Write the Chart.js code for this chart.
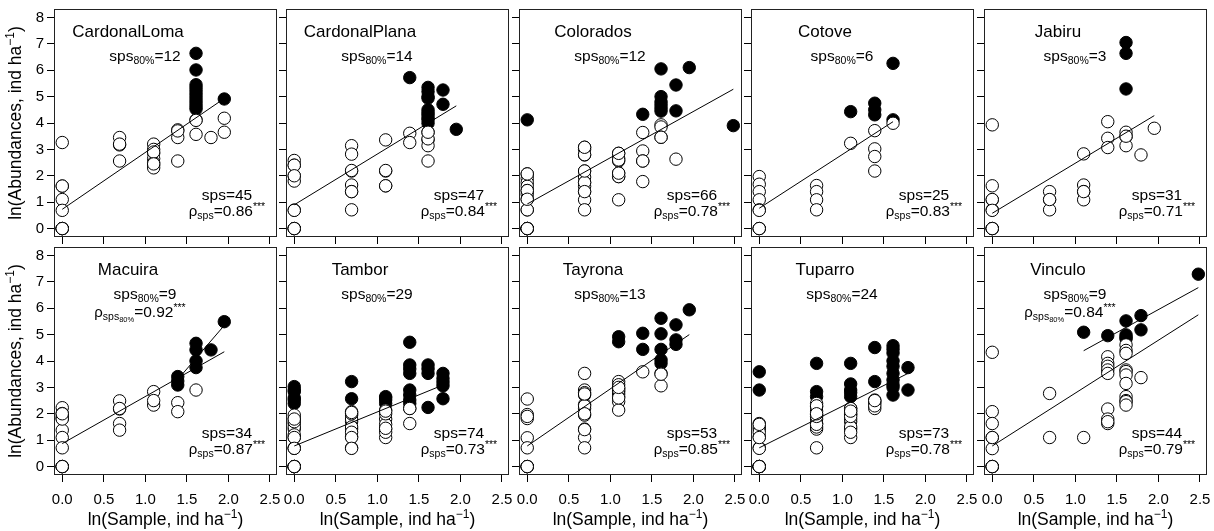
<!DOCTYPE html>
<html>
<head>
<meta charset="utf-8">
<script src="https://cdn.jsdelivr.net/npm/chart.js@4.4.0/dist/chart.umd.min.js"></script>
<style>
  body { margin: 0; background: #fff; }
  #wrap { position: relative; width: 1214px; height: 531px; }
  #wrap canvas { position: absolute; left: 0; top: 0; }
</style>
</head>
<body>
<div id="wrap"></div>
<script>
// Sites and statistics
const sites = ['CardonalLoma', 'CardonalPlana', 'Colorados', 'Cotove', 'Jabiru',
               'Macuira', 'Tambor', 'Tayrona', 'Tuparro', 'Vinculo'];
const sps80 = [12, 14, 12, 6, 3, 9, 29, 13, 24, 9];
const spsAll = [45, 47, 66, 25, 31, 34, 74, 53, 73, 44];
const rhoAll = ['0.86', '0.84', '0.78', '0.83', '0.71', '0.87', '0.73', '0.85', '0.78', '0.79'];
const rho80 = [null, null, null, null, null, '0.92', null, null, null, '0.84'];

const xTicks = [0, 0.5, 1, 1.5, 2, 2.5];
const yTicks = [0, 1, 2, 3, 4, 5, 6, 7, 8];

// [ln(sample), ln(abundance)] -- open = rest of species, filled = 80% species
const lomaOpen = [[0,3.26],[0,1.61],[0,1.1],[0,0.69],[0,0],[0,0],[0,0],[0,0],[0,0],
  [0.69,3.45],[0.69,3.17],[0.69,2.56],
  [1.1,3.2],[1.1,3.0],[1.1,2.85],[1.1,2.65],[1.1,2.5],[1.1,2.4],[1.1,2.3],[1.1,2.9],
  [1.39,3.74],[1.39,3.45],[1.39,2.56],
  [1.61,4.12],[1.61,3.57],[1.61,4.1],
  [1.79,3.45],[1.95,4.18],[1.95,3.65],
  [0,1.61],[0.69,3.2],[1.1,2.45],[1.39,3.7]];
const lomaFilled = [[1.61,6.64],[1.61,6.01],[1.61,5.45],[1.61,5.33],[1.61,5.21],[1.61,5.09],
  [1.61,4.97],[1.61,4.85],[1.61,4.74],[1.61,4.63],[1.61,4.53],[1.95,4.91]];

const planaOpen = [[0,2.58],[0,2.4],[0,2.0],[0,1.8],[0,0.7],[0,0],[0,0],[0,0],[0,0],[0,0.69],[0,2.4],
  [0.69,3.14],[0.69,2.82],[0.69,2.18],[0.69,1.65],[0.69,1.4],[0.69,0.71],[0.69,2.2],
  [1.1,3.36],[1.1,2.18],[1.1,1.62],[1.1,2.2],
  [1.39,3.61],[1.39,3.26],
  [1.61,3.65],[1.61,3.36],[1.61,3.14],[1.61,2.56],[1.61,3.4],[1.61,3.65],
  [0,2.0],[0.69,1.4],[1.1,1.62]];
const planaFilled = [[1.39,5.72],[1.61,5.35],[1.61,5.19],[1.61,5.0],[1.61,4.94],[1.61,4.5],
  [1.61,4.4],[1.61,4.31],[1.61,4.2],[1.61,4.12],[1.61,3.99],[1.79,5.25],[1.79,4.71],[1.95,3.76]];

const coloOpen = [[0,2.07],[0,1.9],[0,1.74],[0,1.6],[0,1.44],[0,1.3],[0,1.11],[0,0.71],[0,0],[0,0],[0,0],[0,0],[0,0],
  [0.69,3.08],[0.69,3.0],[0.69,2.79],[0.69,2.18],[0.69,1.95],[0.69,1.74],[0.69,1.6],[0.69,1.4],
  [0.69,1.09],[0.69,0.71],[0.69,2.8],[0.69,1.75],
  [1.1,2.85],[1.1,2.66],[1.1,2.56],[1.1,2.1],[1.1,1.97],[1.1,1.09],[1.1,2.6],
  [1.39,3.64],[1.39,2.94],[1.39,2.56],[1.39,1.78],
  [1.61,3.93],[1.61,3.85],[1.61,3.46],
  [1.79,2.63],
  [0,2.07],[0,1.44],[0,0.71],[0.69,3.08],[0.69,2.18],[1.1,2.85],[1.1,1.97],[1.39,2.56],
  [1.61,3.46],[0,1.11],[0.69,1.4],[0,0],[0,0],[1.1,2.1]];
const coloFilled = [[0,4.12],[1.39,4.33],[1.61,6.05],[1.61,5.0],[1.61,4.8],[1.61,4.68],[1.61,4.56],
  [1.61,4.45],[1.79,5.44],[1.79,4.46],[1.95,6.1],[2.48,3.9]];

const cotoOpen = [[0,1.97],[0,1.68],[0,1.4],[0,1.09],[0,0.71],[0,0],[0,0],[0,0],[0,0.69],
  [0.69,1.63],[0.69,1.4],[0.69,1.09],[0.69,0.71],
  [1.1,3.23],
  [1.39,3.71],[1.39,3.02],[1.39,2.73],[1.39,2.18],
  [1.61,3.99]];
const cotoFilled = [[1.1,4.43],[1.39,4.75],[1.39,4.5],[1.39,4.31],[1.61,6.26],[1.61,4.12]];

const jabiOpen = [[0,3.93],[0,1.62],[0,1.09],[0,0.71],[0,0],[0,0],[0,0],[0,0],[0,1.1],
  [0.69,1.4],[0.69,1.09],[0.69,0.71],[0.69,1.1],
  [1.1,2.83],[1.1,1.65],[1.1,1.4],[1.1,1.09],[1.1,1.4],
  [1.39,4.05],[1.39,3.42],[1.39,3.07],
  [1.61,3.65],[1.61,3.48],[1.61,3.14],[1.61,3.5],
  [1.79,2.79],[1.95,3.8],[0,0.69]];
const jabiFilled = [[1.61,7.05],[1.61,6.64],[1.61,5.29]];

const macuOpen = [[0,2.23],[0,2.01],[0,1.89],[0,1.82],[0,1.38],[0,1.1],[0,0.71],[0,0],[0,0],[0,0],[0,0],[0,0],[0,1.8],[0,2.0],
  [0.69,2.49],[0.69,2.18],[0.69,1.63],[0.69,1.38],[0.69,2.2],
  [1.1,2.84],[1.1,2.33],[1.1,2.5],
  [1.39,2.42],[1.39,2.08],
  [1.61,2.9]];
const macuFilled = [[1.39,3.41],[1.39,3.24],[1.39,3.09],[1.61,4.67],[1.61,4.42],[1.61,4.0],
  [1.61,3.75],[1.79,4.42],[1.95,5.49]];

const tambOpen = [[0,1.82],[0,1.63],[0,1.42],[0,1.1],[0,0.71],[0,0],[0,0],
  [0.69,2.08],[0.69,1.95],[0.69,1.7],[0.69,1.42],[0.69,1.13],[0.69,0.71],
  [1.1,2.14],[1.1,1.8],[1.1,1.42],[1.1,1.1],
  [1.39,2.2],[1.39,1.63],
  [0,0],[0,0],[0,0],[0,0],[0,1.5],[0,1.2],[0,0.69],[0.69,1.8],[0.69,2.0],[0.69,1.5],[0.69,1.3],
  [1.1,1.6],[1.1,2.0],[1.1,1.3],[1.39,2.2],[0,1.95],[0,1.7],[1.1,2.1],[0.69,1.1],[0,1.1],
  [0,0.69],[0,0],[0.69,2.05],[1.1,1.45],[0,1.8],[0.69,0.69]];
const tambFilled = [[0,3.03],[0,2.84],[0,2.52],[0,2.39],[0.69,3.22],[0.69,2.57],[1.1,2.65],[1.1,2.52],
  [1.1,2.39],[1.39,4.71],[1.39,3.85],[1.39,3.53],[1.39,2.9],[1.39,2.71],[1.39,2.52],[1.39,2.39],
  [1.61,3.85],[1.61,3.53],[1.61,2.24],[1.79,3.53],[1.79,3.34],[1.79,3.06],[1.79,2.57],
  [0,2.9],[0,2.6],[1.39,3.7],[1.61,3.7],[1.79,3.2],[1.1,2.6]];

const tayrOpen = [[0,2.56],[0,1.97],[0,1.82],[0,1.09],[0,0.71],[0,0],[0,0],[0,0],[0,0],[0,0],[0,1.9],
  [0.69,3.53],[0.69,2.9],[0.69,2.8],[0.69,2.71],[0.69,2.35],[0.69,2.2],[0.69,1.95],[0.69,1.42],
  [0.69,1.1],[0.69,0.71],[0.69,2.3],[0.69,2.75],[0.69,1.4],[0.69,2.0],
  [1.1,3.22],[1.1,3.1],[1.1,2.96],[1.1,2.84],[1.1,2.75],[1.1,2.65],[1.1,2.46],[1.1,2.14],
  [1.1,2.9],[1.1,2.6],[1.1,3.0],
  [1.39,3.59],
  [1.61,3.53],[1.61,3.06],[1.61,3.5]];
const tayrFilled = [[1.1,4.92],[1.1,4.73],[1.39,5.05],[1.39,4.44],[1.61,5.62],[1.61,5.03],[1.61,4.44],
  [1.61,4.04],[1.61,3.91],[1.79,5.37],[1.79,4.8],[1.79,4.63],[1.95,5.94]];

const tupaOpen = [[0,1.63],[0,1.42],[0,1.13],[0,0.71],[0,0],[0,0],
  [0.69,2.39],[0.69,2.27],[0.69,1.97],[0.69,1.63],[0.69,1.42],[0.69,0.71],
  [1.1,2.2],[1.1,2.1],[1.1,1.97],[1.1,1.7],[1.1,1.42],[1.1,1.1],
  [1.39,2.52],[1.39,2.39],[1.39,2.2],
  [0,0],[0,0],[0,0],[0,0],[0,0],[0,1.5],[0,1.3],[0,0.69],[0.69,2.1],[0.69,1.8],[0.69,1.5],[0.69,2.3],
  [1.1,1.8],[1.1,1.5],[1.1,2.0],[1.1,2.2],[1.39,2.45],[1.39,2.3],[0.69,1.6],[1.1,1.3],[0,1.6],
  [0.69,1.9],[1.1,1.9],[0,1.1],[0.69,2.0],[1.1,2.1],[1.39,2.5],[0,0]];
const tupaFilled = [[0,3.59],[0,2.9],[0.69,3.91],[0.69,2.84],[0.69,2.65],[1.1,3.91],[1.1,3.13],[1.1,2.9],
  [1.1,2.65],[1.39,4.51],[1.39,3.22],[1.61,4.58],[1.61,4.3],[1.61,4.0],[1.61,3.53],[1.61,3.28],
  [1.61,3.0],[1.61,2.71],[1.79,3.75],[1.79,2.9],[1.61,4.45],[1.61,3.8],[1.61,3.1],[1.1,2.8]];

const vincOpen = [[0,4.33],[0,2.08],[0,1.63],[0,1.1],[0,0.68],[0,0],[0,0],[0,0],[0,0],[0,0],[0,1.1],
  [0.69,2.77],[0.69,1.1],
  [1.1,1.1],
  [1.39,4.16],[1.39,3.91],[1.39,3.8],[1.39,3.66],[1.39,3.53],[1.39,2.18],[1.39,1.8],[1.39,1.63],[1.39,1.7],
  [1.61,4.61],[1.61,4.4],[1.61,4.29],[1.61,3.66],[1.61,3.6],[1.61,3.47],[1.61,3.15],[1.61,2.65],
  [1.61,2.5],[1.61,2.46],[1.61,2.33],
  [1.79,3.37]];
const vincFilled = [[1.1,5.09],[1.39,4.96],[1.61,5.52],[1.61,4.99],[1.61,4.9],[1.61,4.84],
  [1.79,5.72],[1.79,5.18],[2.48,7.29]];

const openPts = [lomaOpen, planaOpen, coloOpen, cotoOpen, jabiOpen, macuOpen, tambOpen, tayrOpen, tupaOpen, vincOpen];
const filledPts = [lomaFilled, planaFilled, coloFilled, cotoFilled, jabiFilled, macuFilled, tambFilled, tayrFilled, tupaFilled, vincFilled];

// fitted lines, end points
const fitAll = [
  [[0,0.73],[1.95,4.93]],
  [[0,0.9],[1.95,4.65]],
  [[0,0.93],[2.48,5.28]],
  [[0,0.77],[1.61,4.05]],
  [[0,0.58],[1.95,4.28]],
  [[0,0.87],[1.95,4.35]],
  [[0,0.78],[1.79,3.09]],
  [[0,0.78],[1.95,5.0]],
  [[0,0.71],[1.79,3.53]],
  [[0,0.78],[2.48,5.75]]
];
const fit80 = [null, null, null, null, null, [[1.39,3.3],[1.95,5.35]], null, null, null, [[1.1,4.39],[2.48,6.78]]];

// ---- layout ----
const W = 1214, H = 531;
const colLeft = [54, 286, 519, 751, 984];
const rowTop = [9, 247];
const boxW = 223, boxH = 228;
const TICK = 7;
const FONT = '"Liberation Sans", Arial, Helvetica, sans-serif';
Chart.defaults.font.family = FONT;
Chart.defaults.color = '#000';

const toXY = arr => arr.map(p => ({ x: p[0], y: p[1] }));

// draw a run of text pieces: [text, size, dy]
function drawRich(ctx, parts, x, y, align) {
  let total = 0;
  parts.forEach(p => {
    ctx.font = p[1] + 'px ' + FONT;
    total += ctx.measureText(p[0]).width;
  });
  let cx = align === 'center' ? x - total / 2 : x;
  ctx.textAlign = 'left';
  ctx.textBaseline = 'alphabetic';
  parts.forEach(p => {
    ctx.font = p[1] + 'px ' + FONT;
    ctx.fillText(p[0], cx, y + (p[2] || 0));
    cx += ctx.measureText(p[0]).width;
  });
}

const panelText = {
  id: 'panelText',
  afterDraw(chart, args, opts) {
    const ctx = chart.ctx;
    const a = chart.chartArea;
    const i = opts.index;
    ctx.save();
    // box
    ctx.strokeStyle = '#222';
    ctx.lineWidth = 1;
    ctx.strokeRect(a.left + 0.5, a.top + 0.5, a.right - a.left - 1, a.bottom - a.top - 1);
    ctx.fillStyle = '#000';
    drawRich(ctx, [[sites[i], 17]], a.left + 74, a.top + 28, 'center');
    drawRich(ctx, [['sps', 15.5], ['80%', 10.5, 3], ['=' + sps80[i], 15.5]], a.left + 91, a.top + 52, 'center');
    if (rho80[i]) {
      drawRich(ctx, [['\u03c1', 15], ['sps', 10.5, 3], ['80%', 7.5, 5], ['=' + rho80[i], 15.5], ['***', 10.5, -6]],
        a.left + 86, a.top + 70, 'center');
    }
    drawRich(ctx, [['sps=' + spsAll[i], 15.5]], a.right - 50, a.top + 191, 'center');
    drawRich(ctx, [['\u03c1', 15], ['sps', 10.5, 3], ['=' + rhoAll[i], 15.5], ['***', 10.5, -6]],
      a.right - 50, a.top + 207, 'center');

    // axis titles
    if (opts.col === 0) {
      ctx.save();
      ctx.translate(15, (a.top + a.bottom) / 2);
      ctx.rotate(-Math.PI / 2);
      drawRich(ctx, [['ln(Abundances, ind ha', 17.5], ['\u22121', 12, -7], [')', 17.5]], 0, 6, 'center');
      ctx.restore();
    }
    if (opts.row === 1) {
      drawRich(ctx, [['ln(Sample, ind ha', 17.5], ['\u22121', 12, -7], [')', 17.5]],
        (a.left + a.right) / 2, 525, 'center');
    }
    ctx.restore();
  }
};

const wrap = document.getElementById('wrap');

sites.forEach((name, i) => {
  const row = Math.floor(i / 5), col = i % 5;
  const left = colLeft[col], top = rowTop[row];
  // scale boxes must hold their labels (Chart.js clips labels to the scale box)
  const yW = col === 0 ? 40 : TICK;
  const xH = row === 1 ? 40 : TICK;
  const canvas = document.createElement('canvas');
  canvas.width = W; canvas.height = H;
  canvas.style.width = W + 'px'; canvas.style.height = H + 'px';
  wrap.appendChild(canvas);

  const datasets = [
    { type: 'line', data: toXY(fitAll[i]), borderColor: '#000', borderWidth: 1, pointRadius: 0, tension: 0, fill: false, order: 0 },
    { type: 'scatter', data: toXY(openPts[i]), backgroundColor: '#fff', borderColor: '#000', borderWidth: 1, pointRadius: 6.2, order: 1 },
    { type: 'scatter', data: toXY(filledPts[i]), backgroundColor: '#000', borderColor: '#000', borderWidth: 1, pointRadius: 6.2, order: 2 }
  ];
  if (fit80[i]) {
    datasets.push({ type: 'line', data: toXY(fit80[i]), borderColor: '#000', borderWidth: 1, pointRadius: 0, tension: 0, fill: false, order: 0 });
  }

  new Chart(canvas, {
    type: 'scatter',
    data: { datasets },
    options: {
      responsive: false,
      animation: false,
      events: [],
      layout: {
        autoPadding: false,
        padding: { left: left - yW, top: top, right: W - left - boxW, bottom: H - top - boxH - xH }
      },
      plugins: {
        legend: { display: false },
        tooltip: { enabled: false },
        panelText: { index: i, row: row, col: col }
      },
      scales: {
        x: {
          type: 'linear', position: 'bottom', min: -0.0994, max: 2.5844,
          afterBuildTicks: s => { s.ticks = xTicks.map(v => ({ value: v })); },
          afterFit: s => { s.height = xH; s.paddingLeft = s.paddingRight = s.paddingTop = s.paddingBottom = 0; },
          grid: { drawOnChartArea: false, drawTicks: true, tickLength: TICK, color: '#000', lineWidth: 1 },
          border: { display: false },
          ticks: { display: row === 1, autoSkip: false, maxRotation: 0, padding: 9, font: { size: 15 }, color: '#000',
                   callback: v => v.toFixed(1) }
        },
        y: {
          type: 'linear', position: 'left', min: -0.32, max: 8.32,
          afterBuildTicks: s => { s.ticks = yTicks.map(v => ({ value: v })); },
          afterFit: s => { s.width = yW; s.paddingLeft = s.paddingRight = s.paddingTop = s.paddingBottom = 0; },
          grid: { drawOnChartArea: false, drawTicks: true, tickLength: TICK, color: '#000', lineWidth: 1 },
          border: { display: false },
          ticks: { display: col === 0, autoSkip: false, padding: 3, font: { size: 15 }, color: '#000',
                   callback: v => String(v) }
        }
      }
    },
    plugins: [panelText]
  });
});
</script>
</body>
</html>
